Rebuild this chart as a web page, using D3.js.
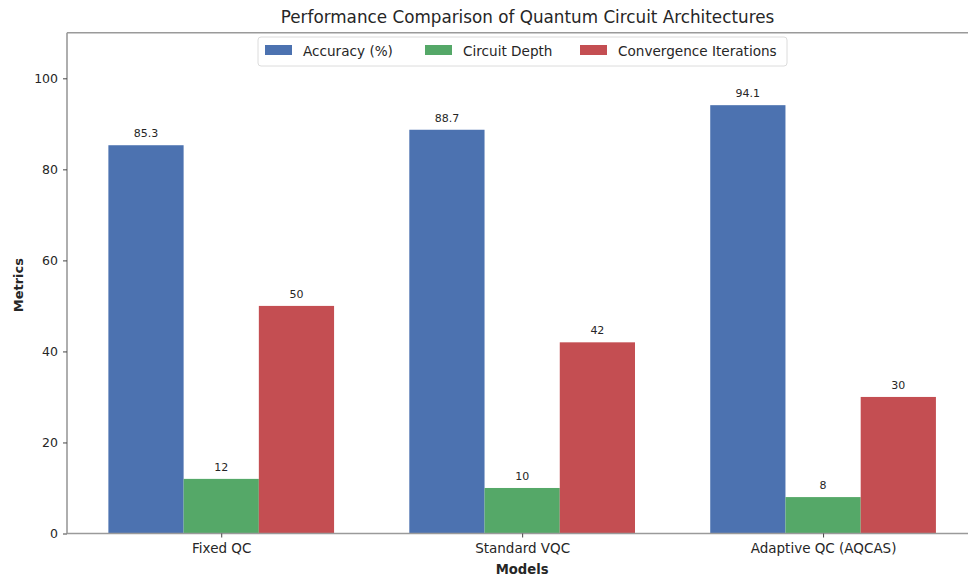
<!DOCTYPE html>
<html>
<head>
<meta charset="utf-8">
<script src="https://cdn.jsdelivr.net/npm/d3@7"></script>
<style>
  body { margin: 0; background: #fff; }
  svg { display: block; }
  text { font-family: "DejaVu Sans", sans-serif; fill: #262626; }
</style>
</head>
<body>
<svg id="chart" width="968" height="578"></svg>
<script>
const categories = ["Fixed QC", "Standard VQC", "Adaptive QC (AQCAS)"];
const seriesNames = ["Accuracy (%)", "Circuit Depth", "Convergence Iterations"];
const accuracy = [85.3, 88.7, 94.1];
const circuitDepth = [12, 10, 8];
const convergenceIterations = [50, 42, 30];
const valueLabels = [["85.3", "88.7", "94.1"], ["12", "10", "8"], ["50", "42", "30"]];
const yTicks = [0, 20, 40, 60, 80, 100];
const colors = ["#4c72b0", "#55a868", "#c44e52"];

const series = [accuracy, circuitDepth, convergenceIterations];
const barWidth = 0.25;

const svg = d3.select("#chart");
const mLeft = 67, mRight = 977.3, mTop = 32.8, mBottom = 533.5;

const x = d3.scaleLinear().domain([-0.5125, 2.5125]).range([mLeft, mRight]);
const y = d3.scaleLinear().domain([0, 110]).range([mBottom, mTop]);

// bars
series.forEach((vals, s) => {
  const off = (s - 1) * barWidth;
  svg.append("g").selectAll("rect").data(vals).join("rect")
    .attr("x", (d, i) => x(i + off - barWidth / 2))
    .attr("width", (d, i) => x(i + off + barWidth / 2) - x(i + off - barWidth / 2))
    .attr("y", d => y(d))
    .attr("height", d => y(0) - y(d))
    .attr("fill", colors[s]);
  svg.append("g").selectAll("text").data(vals).join("text")
    .attr("x", (d, i) => x(i + off))
    .attr("y", d => y(d) - 8)
    .attr("text-anchor", "middle")
    .attr("font-size", 11)
    .text((d, i) => valueLabels[s][i]);
});

// spines
const spine = svg.append("g").attr("stroke", "#9a9a9a").attr("stroke-width", 1.6).attr("fill", "none");
spine.append("line").attr("x1", mLeft).attr("x2", mLeft).attr("y1", mTop).attr("y2", mBottom);
spine.append("line").attr("x1", mLeft).attr("x2", mRight).attr("y1", mBottom).attr("y2", mBottom);
spine.append("line").attr("x1", mLeft).attr("x2", mRight).attr("y1", mTop).attr("y2", mTop);

// y axis
const yAxis = d3.axisLeft(y).tickValues(yTicks).tickSize(4).tickPadding(5);
const gy = svg.append("g").attr("transform", `translate(${mLeft},0)`).call(yAxis);
gy.select(".domain").remove();
gy.selectAll(".tick line").attr("stroke", "#444");
gy.selectAll(".tick text").attr("font-size", 12.5).attr("fill", "#333").style("font-family", "DejaVu Sans");

// x axis
const xAxis = d3.axisBottom(x).tickValues([0, 1, 2]).tickFormat((d) => categories[d]).tickSize(4).tickPadding(6);
const gx = svg.append("g").attr("transform", `translate(0,${mBottom})`).call(xAxis);
gx.select(".domain").remove();
gx.selectAll(".tick line").attr("stroke", "#444");
gx.selectAll(".tick text").attr("font-size", 13.5).attr("fill", "#333").style("font-family", "DejaVu Sans");

// labels
svg.append("text").attr("x", x(1)).attr("y", 574).attr("text-anchor", "middle")
  .attr("font-size", 13.2).attr("font-weight", "bold").text("Models");
svg.append("text").attr("transform", `translate(23,${(mTop + mBottom) / 2 + 2}) rotate(-90)`)
  .attr("text-anchor", "middle").attr("font-size", 13).attr("font-weight", "bold").text("Metrics");
svg.append("text").attr("x", 527.5).attr("y", 23).attr("text-anchor", "middle")
  .attr("font-size", 16.8).text("Performance Comparison of Quantum Circuit Architectures");

// legend
const lg = svg.append("g");
lg.append("rect").attr("x", 258).attr("y", 37).attr("width", 529).attr("height", 29).attr("rx", 3)
  .attr("fill", "#fff").attr("fill-opacity", 0.8).attr("stroke", "#dcdcdc");
const entryX = [265, 425, 580];
seriesNames.forEach((n, i) => {
  lg.append("rect").attr("x", entryX[i]).attr("y", 45).attr("width", 27).attr("height", 10).attr("fill", colors[i]);
  lg.append("text").attr("x", entryX[i] + 38).attr("y", 55.5).attr("font-size", 13.6).text(n);
});
</script>
</body>
</html>
